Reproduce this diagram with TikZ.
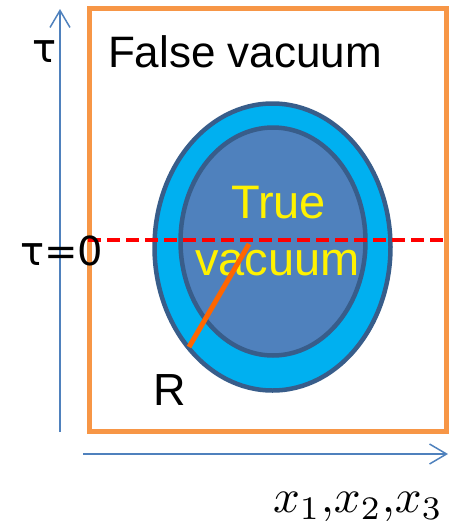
\documentclass[tikz,border=0pt]{standalone}
\usepackage{fontspec}
\setmainfont{Liberation Sans}
\newfontfamily\taufont{DejaVu Sans}
\usetikzlibrary{arrows.meta}
\definecolor{axisblue}{RGB}{79,129,189}
\definecolor{frameorange}{RGB}{247,150,70}
\definecolor{ringblue}{RGB}{0,176,240}
\definecolor{coreblue}{RGB}{79,129,189}
\definecolor{edgeblue}{RGB}{56,93,138}
\definecolor{radiusorange}{RGB}{255,102,0}
\tikzset{
  axisline/.style={draw=axisblue,line width=1.5pt,-{Straight Barb[length=17pt,width=20pt,line width=1.5pt]}},
  lbl/.style={anchor=base west,inner sep=0pt,outer sep=0pt,font=\fontsize{44}{48}\selectfont},
  taulbl/.style={anchor=base west,inner sep=0pt,outer sep=0pt,font=\taufont\fontsize{40}{44}\selectfont},
  yl/.style={anchor=base,inner sep=0pt,outer sep=0pt,text=yellow,font=\fontsize{47}{50}\selectfont},
}
\begin{document}
\begin{tikzpicture}[x=1pt,y=-1pt]
\useasboundingbox (0,0) rectangle (449,525);
% axes
\coordinate (vb) at (60,432);
\coordinate (vt) at (60,9);
\coordinate (hl) at (83,454);
\coordinate (hr) at (448,454);
\draw[axisline] (vb) -- (vt);
\draw[axisline] (hl) -- (hr);
% frame
\draw[frameorange,line width=5pt] (89.5,8.5) rectangle (446.5,431.5);
% bubble
\draw[edgeblue,fill=ringblue,line width=4.5pt] (272.5,247) ellipse [x radius=118,y radius=143.5];
\draw[edgeblue,fill=coreblue,line width=4.5pt] (273,241.5) ellipse [x radius=92.5,y radius=114];
% texts
\node[lbl] (fv) at (108,67) {False vacuum};
\node[yl] (tr) at (278.5,218) {True};
\node[yl] (vc) at (277.5,275) {vacuum};
% dashed line
\coordinate (dl) at (88,240);
\coordinate (dr) at (449,240);
\draw[red,line width=4pt,dash pattern=on 13pt off 6pt] (dl) -- (dr);
% radius
\coordinate (rc) at (249,244);
\coordinate (re) at (189,347);
\draw[radiusorange,line width=5pt] (rc) -- (re);
% labels
\node[taulbl] (tau) at (32,62) {τ};
\node[taulbl] (tau0) at (20,265) {τ=0};
\node[lbl,font=\fontsize{45}{48}\selectfont] (R) at (153,405) {R};
\node[anchor=base west,inner sep=0pt,outer sep=0pt,font=\fontsize{10}{12}\selectfont] (xs) at (273,512) {\scalebox{4.7}{$x_1{,}x_2{,}x_3$}};
\end{tikzpicture}
\end{document}
